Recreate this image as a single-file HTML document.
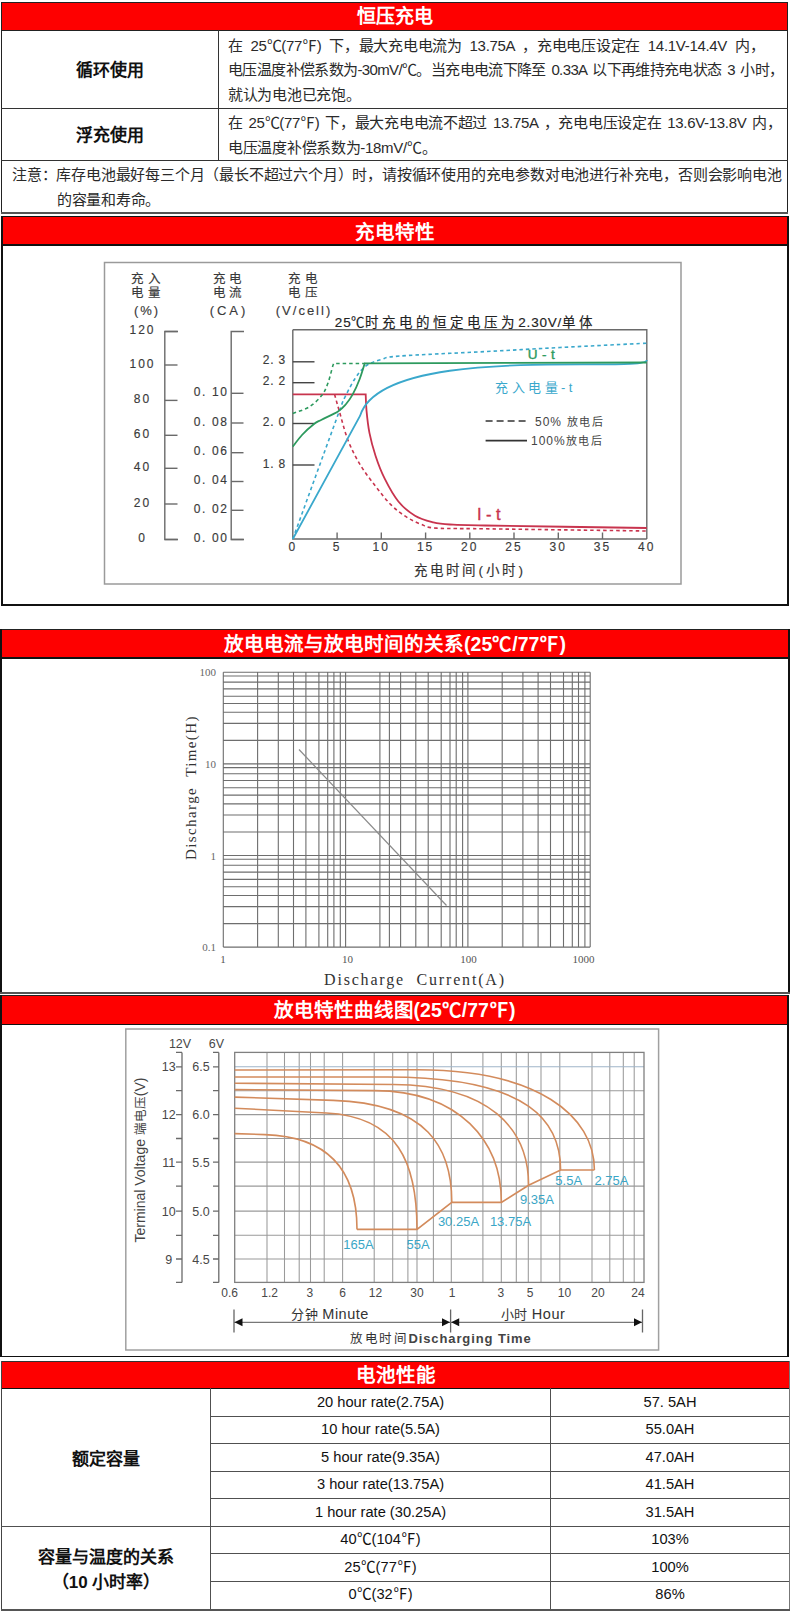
<!DOCTYPE html>
<html lang="zh-CN">
<head>
<meta charset="utf-8">
<style>
html,body{margin:0;padding:0;background:#fff;}
body{width:790px;height:1611px;position:relative;overflow:hidden;font-family:"Liberation Sans",sans-serif;color:#111;}
.a{position:absolute;}
.hl{position:absolute;height:1px;background:#333;}
.vl{position:absolute;width:1px;background:#333;}
.red{position:absolute;background:#fe0000;}
.ht{position:absolute;color:#fff;font-weight:bold;font-size:19.5px;text-align:center;line-height:27px;white-space:nowrap;}
.bt{position:absolute;font-size:15px;line-height:25px;white-space:nowrap;color:#2a2a2a;word-spacing:2px;letter-spacing:-0.3px;}
.lb{position:absolute;font-size:17px;font-weight:bold;text-align:center;white-space:nowrap;color:#111;}
.ct{position:absolute;font-size:14.67px;text-align:center;white-space:nowrap;color:#111;line-height:27px;}
</style>
</head>
<body>
<!-- ===== Section 1 ===== -->
<div class="red" style="left:1px;top:2px;width:787px;height:29px;"></div>
<div class="hl" style="left:1px;top:2px;width:787px;background:#222"></div>
<div class="hl" style="left:1px;top:30px;width:787px;background:#222"></div>
<div class="ht" style="left:1px;top:3px;width:787px;font-size:19px;">恒压充电</div>
<div class="vl" style="left:1px;top:2px;height:211px;background:#222"></div>
<div class="vl" style="left:787px;top:2px;height:211px;background:#222"></div>
<div class="vl" style="left:218px;top:30px;height:130px;"></div>
<div class="hl" style="left:1px;top:108px;width:787px;"></div>
<div class="hl" style="left:1px;top:160px;width:787px;"></div>
<div class="hl" style="left:1px;top:212px;width:787px;height:2px;background:#555"></div>
<div class="lb" style="left:2px;top:60.3px;width:216px;line-height:22px;">循环使用</div>
<div class="lb" style="left:2px;top:124.5px;width:216px;line-height:22px;">浮充使用</div>
<div class="bt" style="left:228px;top:33px;word-spacing:4px;">在 25℃(77℉) 下，最大充电电流为 13.75A ，充电电压设定在 14.1V-14.4V 内，</div>
<div class="bt" style="left:228px;top:57px;letter-spacing:-0.62px;">电压温度补偿系数为-30mV/℃。当充电电流下降至 0.33A 以下再维持充电状态 3 小时，</div>
<div class="bt" style="left:228px;top:82px;">就认为电池已充饱。</div>
<div class="bt" style="left:228px;top:110px;">在 25℃(77℉) 下，最大充电电流不超过 13.75A ，充电电压设定在 13.6V-13.8V 内，</div>
<div class="bt" style="left:228px;top:135px;">电压温度补偿系数为-18mV/℃。</div>
<div class="bt" style="left:12px;top:162px;letter-spacing:-0.2px;">注意：库存电池最好每三个月（最长不超过六个月）时，请按循环使用的充电参数对电池进行补充电，否则会影响电池</div>
<div class="bt" style="left:57px;top:187px;">的容量和寿命。</div>

<!-- ===== Section 2 ===== -->
<div class="red" style="left:1px;top:216px;width:787px;height:29px;"></div>
<div class="hl" style="left:1px;top:216px;width:787px;background:#111"></div>
<div class="hl" style="left:1px;top:244px;width:787px;height:2px;background:#111"></div>
<div class="ht" style="left:1px;top:218.5px;width:787px;">充电特性</div>
<div class="vl" style="left:1px;top:216px;height:390px;width:2px;background:#111"></div>
<div class="vl" style="left:787px;top:216px;height:390px;width:2px;background:#111"></div>
<div class="hl" style="left:1px;top:604px;width:788px;height:2px;background:#111"></div>

<!-- ===== Section 3 ===== -->
<div class="red" style="left:0px;top:629px;width:790px;height:29px;"></div>
<div class="hl" style="left:0px;top:629px;width:790px;background:#222"></div>
<div class="hl" style="left:0px;top:657px;width:790px;height:2px;background:#111"></div>
<div class="ht" style="left:0px;top:630.7px;width:790px;">放电电流与放电时间的关系(25℃/77℉)</div>
<div class="vl" style="left:0px;top:629px;height:365px;width:2px;background:#111"></div>
<div class="vl" style="left:788px;top:629px;height:365px;width:2px;background:#111"></div>
<div class="hl" style="left:0px;top:992px;width:790px;height:2px;background:#555"></div>

<!-- ===== Section 4 ===== -->
<div class="red" style="left:0px;top:995px;width:789px;height:30px;"></div>
<div class="hl" style="left:0px;top:995px;width:789px;background:#222"></div>
<div class="hl" style="left:0px;top:1024px;width:789px;height:1px;background:#111"></div>
<div class="ht" style="left:0px;top:997px;width:789px;">放电特性曲线图(25℃/77℉)</div>
<div class="vl" style="left:0px;top:995px;height:362px;width:2px;background:#111"></div>
<div class="vl" style="left:787px;top:995px;height:362px;width:2px;background:#111"></div>
<div class="hl" style="left:0px;top:1356px;width:789px;height:1px;background:#111"></div>

<!-- ===== Section 5 ===== -->
<div class="red" style="left:1px;top:1361px;width:789px;height:28px;"></div>
<div class="hl" style="left:1px;top:1361px;width:789px;background:#333"></div>
<div class="hl" style="left:1px;top:1388px;width:789px;height:1px;background:#111"></div>
<div class="ht" style="left:1px;top:1362px;width:789px;">电池性能</div>
<div class="vl" style="left:1px;top:1361px;height:249px;background:#444"></div>
<div class="vl" style="left:789px;top:1361px;height:249px;background:#777"></div>
<div class="vl" style="left:210px;top:1388px;height:221px;background:#505050"></div>
<div class="vl" style="left:550px;top:1388px;height:221px;background:#505050"></div>
<div class="hl" style="left:210px;top:1416px;width:579px;background:#505050"></div>
<div class="hl" style="left:210px;top:1443px;width:579px;background:#505050"></div>
<div class="hl" style="left:210px;top:1471px;width:579px;background:#505050"></div>
<div class="hl" style="left:210px;top:1498px;width:579px;background:#505050"></div>
<div class="hl" style="left:1px;top:1526px;width:789px;background:#505050"></div>
<div class="hl" style="left:210px;top:1553px;width:579px;background:#505050"></div>
<div class="hl" style="left:210px;top:1581px;width:579px;background:#505050"></div>
<div class="hl" style="left:1px;top:1609px;width:789px;height:2px;background:#555"></div>
<div class="lb" style="left:2px;top:1448.5px;width:208px;line-height:22px;">额定容量</div>
<div class="lb" style="left:2px;top:1545px;width:208px;line-height:25px;">容量与温度的关系<br>（10 小时率）</div>
<div class="ct" style="left:211px;top:1389px;width:339px;">20 hour rate(2.75A)</div>
<div class="ct" style="left:211px;top:1416px;width:339px;">10 hour rate(5.5A)</div>
<div class="ct" style="left:211px;top:1444px;width:339px;">5 hour rate(9.35A)</div>
<div class="ct" style="left:211px;top:1471px;width:339px;">3 hour rate(13.75A)</div>
<div class="ct" style="left:211px;top:1499px;width:339px;">1 hour rate (30.25A)</div>
<div class="ct" style="left:211px;top:1526px;width:339px;">40℃(104℉)</div>
<div class="ct" style="left:211px;top:1554px;width:339px;">25℃(77℉)</div>
<div class="ct" style="left:211px;top:1581px;width:339px;">0℃(32℉)</div>
<div class="ct" style="left:551px;top:1389px;width:238px;">57. 5AH</div>
<div class="ct" style="left:551px;top:1416px;width:238px;">55.0AH</div>
<div class="ct" style="left:551px;top:1444px;width:238px;">47.0AH</div>
<div class="ct" style="left:551px;top:1471px;width:238px;">41.5AH</div>
<div class="ct" style="left:551px;top:1499px;width:238px;">31.5AH</div>
<div class="ct" style="left:551px;top:1526px;width:238px;">103%</div>
<div class="ct" style="left:551px;top:1554px;width:238px;">100%</div>
<div class="ct" style="left:551px;top:1581px;width:238px;">86%</div>

<!-- CHARTS -->
<svg class="a" style="left:0;top:0" width="790" height="1611" viewBox="0 0 790 1611">
<rect x="104.5" y="262.5" width="576.5" height="321.5" fill="none" stroke="#9a9a9a" stroke-width="1.5"/>
<g stroke="#3a3a3a" stroke-width="0.15">
<text x="147.8" y="283.2" font-size="12.5" fill="#3a3a3a" text-anchor="middle" font-family="Liberation Sans" letter-spacing="3.5">充入</text>
<text x="147.8" y="297.2" font-size="12.5" fill="#3a3a3a" text-anchor="middle" font-family="Liberation Sans" letter-spacing="3.5">电量</text>
<text x="147" y="314.5" font-size="13" fill="#3a3a3a" text-anchor="middle" font-family="Liberation Sans" letter-spacing="2">(%)</text>
<text x="229.2" y="283.2" font-size="12.5" fill="#3a3a3a" text-anchor="middle" font-family="Liberation Sans" letter-spacing="3.5">充电</text>
<text x="229.2" y="297.2" font-size="12.5" fill="#3a3a3a" text-anchor="middle" font-family="Liberation Sans" letter-spacing="3.5">电流</text>
<text x="229" y="314.5" font-size="13" fill="#3a3a3a" text-anchor="middle" font-family="Liberation Sans" letter-spacing="3">(CA)</text>
<text x="304.8" y="283.2" font-size="12.5" fill="#3a3a3a" text-anchor="middle" font-family="Liberation Sans" letter-spacing="3.5">充电</text>
<text x="304.8" y="297.2" font-size="12.5" fill="#3a3a3a" text-anchor="middle" font-family="Liberation Sans" letter-spacing="3.5">电压</text>
<text x="304" y="314.5" font-size="13" fill="#3a3a3a" text-anchor="middle" font-family="Liberation Sans" letter-spacing="2">(V/cell)</text>
<path d="M178,331.5 H164.8 V539.5 H178" fill="none" stroke="#6a6a6a" stroke-width="1.4"/>
<line x1="164.8" y1="331.5" x2="177.5" y2="331.5" stroke="#6a6a6a" stroke-width="1.4" />
<text x="142.5" y="334" font-size="12" fill="#3a3a3a" text-anchor="middle" font-family="Liberation Sans" letter-spacing="2">120</text>
<line x1="164.8" y1="365" x2="177.5" y2="365" stroke="#6a6a6a" stroke-width="1.4" />
<text x="142.5" y="367.5" font-size="12" fill="#3a3a3a" text-anchor="middle" font-family="Liberation Sans" letter-spacing="2">100</text>
<line x1="164.8" y1="400.4" x2="177.5" y2="400.4" stroke="#6a6a6a" stroke-width="1.4" />
<text x="142.5" y="402.9" font-size="12" fill="#3a3a3a" text-anchor="middle" font-family="Liberation Sans" letter-spacing="2">80</text>
<line x1="164.8" y1="435.3" x2="177.5" y2="435.3" stroke="#6a6a6a" stroke-width="1.4" />
<text x="142.5" y="437.8" font-size="12" fill="#3a3a3a" text-anchor="middle" font-family="Liberation Sans" letter-spacing="2">60</text>
<line x1="164.8" y1="468.3" x2="177.5" y2="468.3" stroke="#6a6a6a" stroke-width="1.4" />
<text x="142.5" y="470.8" font-size="12" fill="#3a3a3a" text-anchor="middle" font-family="Liberation Sans" letter-spacing="2">40</text>
<line x1="164.8" y1="504" x2="177.5" y2="504" stroke="#6a6a6a" stroke-width="1.4" />
<text x="142.5" y="506.5" font-size="12" fill="#3a3a3a" text-anchor="middle" font-family="Liberation Sans" letter-spacing="2">20</text>
<line x1="164.8" y1="539.5" x2="177.5" y2="539.5" stroke="#6a6a6a" stroke-width="1.4" />
<text x="142.5" y="542" font-size="12" fill="#3a3a3a" text-anchor="middle" font-family="Liberation Sans" letter-spacing="2">0</text>
<path d="M244,331.5 H231.2 V539.5 H244" fill="none" stroke="#6a6a6a" stroke-width="1.4"/>
<line x1="231.2" y1="393.3" x2="243.5" y2="393.3" stroke="#6a6a6a" stroke-width="1.4" />
<text x="228.5" y="395.8" font-size="12" fill="#3a3a3a" text-anchor="end" font-family="Liberation Sans" letter-spacing="1.6">0. 10</text>
<line x1="231.2" y1="423" x2="243.5" y2="423" stroke="#6a6a6a" stroke-width="1.4" />
<text x="228.5" y="425.5" font-size="12" fill="#3a3a3a" text-anchor="end" font-family="Liberation Sans" letter-spacing="1.6">0. 08</text>
<line x1="231.2" y1="452.7" x2="243.5" y2="452.7" stroke="#6a6a6a" stroke-width="1.4" />
<text x="228.5" y="455.2" font-size="12" fill="#3a3a3a" text-anchor="end" font-family="Liberation Sans" letter-spacing="1.6">0. 06</text>
<line x1="231.2" y1="481.5" x2="243.5" y2="481.5" stroke="#6a6a6a" stroke-width="1.4" />
<text x="228.5" y="484" font-size="12" fill="#3a3a3a" text-anchor="end" font-family="Liberation Sans" letter-spacing="1.6">0. 04</text>
<line x1="231.2" y1="510.3" x2="243.5" y2="510.3" stroke="#6a6a6a" stroke-width="1.4" />
<text x="228.5" y="512.8" font-size="12" fill="#3a3a3a" text-anchor="end" font-family="Liberation Sans" letter-spacing="1.6">0. 02</text>
<line x1="231.2" y1="539.5" x2="243.5" y2="539.5" stroke="#6a6a6a" stroke-width="1.4" />
<text x="228.5" y="542" font-size="12" fill="#3a3a3a" text-anchor="end" font-family="Liberation Sans" letter-spacing="1.6">0. 00</text>
<path d="M292.8,329.8 H646.8 V539 M292.8,329.8 V539 H646.8" fill="none" stroke="#6a6a6a" stroke-width="1.4"/>
<line x1="292.8" y1="361.8" x2="314.5" y2="361.8" stroke="#444" stroke-width="1.4" />
<text x="286" y="364.3" font-size="12" fill="#3a3a3a" text-anchor="end" font-family="Liberation Sans" letter-spacing="0.8">2. 3</text>
<line x1="292.8" y1="382.7" x2="314.5" y2="382.7" stroke="#444" stroke-width="1.4" />
<text x="286" y="385.2" font-size="12" fill="#3a3a3a" text-anchor="end" font-family="Liberation Sans" letter-spacing="0.8">2. 2</text>
<line x1="292.8" y1="423.5" x2="314.5" y2="423.5" stroke="#444" stroke-width="1.4" />
<text x="286" y="426" font-size="12" fill="#3a3a3a" text-anchor="end" font-family="Liberation Sans" letter-spacing="0.8">2. 0</text>
<line x1="292.8" y1="465" x2="314.5" y2="465" stroke="#444" stroke-width="1.4" />
<text x="286" y="467.5" font-size="12" fill="#3a3a3a" text-anchor="end" font-family="Liberation Sans" letter-spacing="0.8">1. 8</text>
<text x="292.8" y="550.5" font-size="12" fill="#3a3a3a" text-anchor="middle" font-family="Liberation Sans" letter-spacing="2">0</text>
<line x1="337.1" y1="532.5" x2="337.1" y2="539" stroke="#6a6a6a" stroke-width="1.4" />
<text x="337.1" y="550.5" font-size="12" fill="#3a3a3a" text-anchor="middle" font-family="Liberation Sans" letter-spacing="2">5</text>
<line x1="381.3" y1="532.5" x2="381.3" y2="539" stroke="#6a6a6a" stroke-width="1.4" />
<text x="381.3" y="550.5" font-size="12" fill="#3a3a3a" text-anchor="middle" font-family="Liberation Sans" letter-spacing="2">10</text>
<line x1="425.6" y1="532.5" x2="425.6" y2="539" stroke="#6a6a6a" stroke-width="1.4" />
<text x="425.6" y="550.5" font-size="12" fill="#3a3a3a" text-anchor="middle" font-family="Liberation Sans" letter-spacing="2">15</text>
<line x1="469.8" y1="532.5" x2="469.8" y2="539" stroke="#6a6a6a" stroke-width="1.4" />
<text x="469.8" y="550.5" font-size="12" fill="#3a3a3a" text-anchor="middle" font-family="Liberation Sans" letter-spacing="2">20</text>
<line x1="514" y1="532.5" x2="514" y2="539" stroke="#6a6a6a" stroke-width="1.4" />
<text x="514" y="550.5" font-size="12" fill="#3a3a3a" text-anchor="middle" font-family="Liberation Sans" letter-spacing="2">25</text>
<line x1="558.3" y1="532.5" x2="558.3" y2="539" stroke="#6a6a6a" stroke-width="1.4" />
<text x="558.3" y="550.5" font-size="12" fill="#3a3a3a" text-anchor="middle" font-family="Liberation Sans" letter-spacing="2">30</text>
<line x1="602.5" y1="532.5" x2="602.5" y2="539" stroke="#6a6a6a" stroke-width="1.4" />
<text x="602.5" y="550.5" font-size="12" fill="#3a3a3a" text-anchor="middle" font-family="Liberation Sans" letter-spacing="2">35</text>
<text x="646.8" y="550.5" font-size="12" fill="#3a3a3a" text-anchor="middle" font-family="Liberation Sans" letter-spacing="2">40</text>
</g>
<text x="470" y="574.5" font-size="13.5" fill="#333" text-anchor="middle" font-family="Liberation Sans" letter-spacing="3.2" stroke="#333" stroke-width="0.15">充电时间(小时)</text>
<text x="465.5" y="326.5" font-size="13.5" fill="#222" text-anchor="middle" font-family="Liberation Sans" letter-spacing="0.8" stroke="#222" stroke-width="0.15">25℃<tspan letter-spacing="4">时充电的恒定电压为</tspan>2.30V/<tspan letter-spacing="4">单体</tspan></text>
<path d="M292.8,394.4 H365.7  C365.8,397.1 365.9,403.9 366.5,410.4 C367.1,416.9 368,425.6 369.5,433.2 C371,440.8 373.1,448.4 375.6,456 C378.1,463.6 380.9,471.1 384.7,478.7 C388.5,486.3 393.3,495.3 398.4,501.5 C403.4,507.7 409.2,512.2 415,515.7 C420.8,519.2 427.5,520.8 433.3,522.3 C439.1,523.8 441.4,524 450,524.5 C458.6,525 452.2,524.9 485,525.5 C517.8,526.1 619.8,527.6 646.8,528" fill="none" stroke="#c8344e" stroke-width="1.8"/>
<path d="M334.6,394.4 C335.4,397.1 336.8,402.7 339.1,410.4 C341.4,418.1 344.6,431.7 348.2,440.8 C351.8,449.9 355.8,457.5 360.4,465.1 C365,472.7 370.5,479.7 375.6,486.3 C380.7,492.9 385.7,499.5 390.8,504.6 C395.9,509.7 400.9,513.4 406,516.7 C411.1,520 416.1,522.4 421.1,524.3 C426.2,526.2 425.7,527.4 436.3,528.1 C446.9,528.9 449.9,528.3 485,528.8 C520.1,529.3 619.8,530.6 646.8,531" fill="none" stroke="#c8344e" stroke-width="1.6" stroke-dasharray="3.5,3"/>
<path d="M292.8,539 L360,416 C382.7,341.3 647.3,374.6 646.8,360" fill="none" stroke="#3aa8cc" stroke-width="1.8"/>
<path d="M292.8,539 L343,401  C344.9,397.4 350.8,385.1 354.6,379.2 C358.4,373.3 361.6,369.2 366,365.9 C370.4,362.6 375.3,361.2 381,359.6 C386.7,358 382.7,357.3 400,356 C417.3,354.7 458.3,353 485,351.6 C511.7,350.2 533,348.9 560,347.5 C587,346.1 632.3,343.9 646.8,343.2" fill="none" stroke="#3aa8cc" stroke-width="1.6" stroke-dasharray="3.5,3"/>
<path d="M292.8,446.6 C294.3,444.7 298.5,438.8 302,435 C305.5,431.2 310.7,426.6 314,424 C317.3,421.4 317.6,421.8 321.6,419.7 C325.6,417.6 334,414 338,411.5 C342,409 343.2,407.4 345.7,404.5 C348.1,401.6 350.4,398.6 352.7,394.4 C355,390.2 357.6,384.4 359.6,379.2 C361.6,374 363.9,366 364.7,363.4 L646.8,362.5" fill="none" stroke="#2d9a5e" stroke-width="1.8"/>
<path d="M292.8,413.4 C295.5,412.3 304.2,410 309,407 C313.8,404 318.4,399.6 321.6,395.6 C324.8,391.6 326.1,388.1 328,383 C329.9,377.9 331.9,368.6 333,365.3 C334.1,362.1 334.2,363.8 334.5,363.5 L364.7,363.5" fill="none" stroke="#2d9a5e" stroke-width="1.6" stroke-dasharray="3.5,3"/>
<text x="543.5" y="358.5" font-size="13.5" fill="#2d9a5e" text-anchor="middle" font-family="Liberation Sans" letter-spacing="4.5" stroke="#2d9a5e" stroke-width="0.4">U-t</text>
<text x="535.5" y="391.5" font-size="13" fill="#3aa8cc" text-anchor="middle" font-family="Liberation Sans" letter-spacing="3.5">充入电量-t</text>
<text x="491" y="519.5" font-size="16.5" fill="#c8344e" text-anchor="middle" font-family="Liberation Sans" letter-spacing="4.5" stroke="#c8344e" stroke-width="0.35">I-t</text>
<path d="M485.6,421 H527.7" stroke="#333" stroke-width="1.5" stroke-dasharray="7,4"/>
<path d="M485.6,440.6 H527" stroke="#333" stroke-width="1.7"/>
<text x="535" y="425.5" font-size="12" fill="#444" text-anchor="start" font-family="Liberation Sans" letter-spacing="1">50%<tspan font-size="11" letter-spacing="1.6"> 放电后</tspan></text>
<text x="531" y="445" font-size="12" fill="#444" text-anchor="start" font-family="Liberation Sans" letter-spacing="1">100%<tspan font-size="11" letter-spacing="1.6">放电后</tspan></text>
</svg>
<svg class="a" style="left:0;top:0" width="790" height="1611" viewBox="0 0 790 1611">
<path d="M223.3,672.3 V947.1 M257.6,672.3 V947.1 M278.3,672.3 V947.1 M293.5,672.3 V947.1 M305.9,672.3 V947.1 M318.9,672.3 V947.1 M327.7,672.3 V947.1 M333.9,672.3 V947.1 M340.3,672.3 V947.1 M223.3,672.3 H590.2 M223.3,676 H590.2 M223.3,682.1 H590.2 M223.3,688.9 H590.2 M223.3,696.2 H590.2 M223.3,703.5 H590.2 M223.3,712.3 H590.2 M223.3,723.4 H590.2 M223.3,740.4 H590.2 M345.6,672.3 V947.1 M379.9,672.3 V947.1 M400.6,672.3 V947.1 M415.8,672.3 V947.1 M428.2,672.3 V947.1 M441.2,672.3 V947.1 M450,672.3 V947.1 M456.2,672.3 V947.1 M462.6,672.3 V947.1 M223.3,763.9 H590.2 M223.3,767.6 H590.2 M223.3,773.7 H590.2 M223.3,780.5 H590.2 M223.3,787.8 H590.2 M223.3,795.1 H590.2 M223.3,803.9 H590.2 M223.3,815 H590.2 M223.3,832 H590.2 M467.9,672.3 V947.1 M502.2,672.3 V947.1 M522.9,672.3 V947.1 M538.1,672.3 V947.1 M550.5,672.3 V947.1 M563.5,672.3 V947.1 M572.3,672.3 V947.1 M578.5,672.3 V947.1 M584.9,672.3 V947.1 M223.3,855.5 H590.2 M223.3,859.2 H590.2 M223.3,865.3 H590.2 M223.3,872.1 H590.2 M223.3,879.4 H590.2 M223.3,886.7 H590.2 M223.3,895.5 H590.2 M223.3,906.6 H590.2 M223.3,923.6 H590.2 M389.4,672.3 V947.1 M590.2,672.3 V947.1 M223.3,947.1 H590.2 " fill="none" stroke="#6e6e6e" stroke-width="1.1"/>
<line x1="299" y1="749.5" x2="446.5" y2="905.5" stroke="#8a8a8a" stroke-width="1.2" />
<text x="216" y="676.3" font-size="11" fill="#666" text-anchor="end" font-family="Liberation Serif" >100</text>
<text x="216" y="767.9" font-size="11" fill="#666" text-anchor="end" font-family="Liberation Serif" >10</text>
<text x="216" y="859.5" font-size="11" fill="#666" text-anchor="end" font-family="Liberation Serif" >1</text>
<text x="216" y="951.1" font-size="11" fill="#666" text-anchor="end" font-family="Liberation Serif" >0.1</text>
<text x="223" y="963" font-size="11" fill="#555" text-anchor="middle" font-family="Liberation Serif" >1</text>
<text x="347.5" y="963" font-size="11" fill="#555" text-anchor="middle" font-family="Liberation Serif" >10</text>
<text x="468.5" y="963" font-size="11" fill="#555" text-anchor="middle" font-family="Liberation Serif" >100</text>
<text x="583.5" y="963" font-size="11" fill="#555" text-anchor="middle" font-family="Liberation Serif" >1000</text>
<text x="324" y="984.5" font-size="16" fill="#333" font-family="Liberation Serif" xml:space="preserve" textLength="180" lengthAdjust="spacing">Discharge  Current(A)</text>
<text transform="translate(195.5,860) rotate(-90)" x="0" y="0" font-size="15" fill="#333" font-family="Liberation Serif" xml:space="preserve" textLength="143.5" lengthAdjust="spacing">Discharge  Time(H)</text>
</svg>
<svg class="a" style="left:0;top:0" width="790" height="1611" viewBox="0 0 790 1611">
<rect x="125.8" y="1029" width="532.8" height="321" fill="none" stroke="#a0a0a0" stroke-width="1.5"/>
<path d="M267,1052.4 V1282.4 M284.5,1052.4 V1282.4 M299.2,1052.4 V1282.4 M310.5,1052.4 V1282.4 M324.2,1052.4 V1282.4 M342.6,1052.4 V1282.4 M374.2,1052.4 V1282.4 M392.7,1052.4 V1282.4 M407.9,1052.4 V1282.4 M417,1052.4 V1282.4 M433.4,1052.4 V1282.4 M451.3,1052.4 V1282.4 M482.9,1052.4 V1282.4 M501.3,1052.4 V1282.4 M516.3,1052.4 V1282.4 M528.3,1052.4 V1282.4 M541,1052.4 V1282.4 M559.8,1052.4 V1282.4 M592,1052.4 V1282.4 M609.8,1052.4 V1282.4 M623.3,1052.4 V1282.4 M634.2,1052.4 V1282.4 M234.7,1090.7 H644 M234.7,1114.6 H644 M234.7,1138.5 H644 M234.7,1162.1 H644 M234.7,1186.1 H644 M234.7,1211.1 H644 M234.7,1235.3 H644 M234.7,1259 H644 " fill="none" stroke="#9a9a9a" stroke-width="1.05"/>
<line x1="234.7" y1="1066.8" x2="644" y2="1066.8" stroke="#9fb4c8" stroke-width="1.1" />
<rect x="234.7" y="1052.4" width="409.3" height="230" fill="none" stroke="#808080" stroke-width="1.3"/>
<path d="M182,1052.4 V1282.4 M176,1052.4 H182 M176,1066.8 H182 M176,1090.7 H182 M176,1114.6 H182 M176,1138.5 H182 M176,1162.1 H182 M176,1186.1 H182 M176,1211.1 H182 M176,1235.3 H182 M176,1259 H182 M176,1282.4 H182 " fill="none" stroke="#6a6a6a" stroke-width="1.3"/>
<path d="M218.8,1052.4 V1282.4 M213,1052.4 H218.8 M213,1066.8 H218.8 M213,1090.7 H218.8 M213,1114.6 H218.8 M213,1138.5 H218.8 M213,1162.1 H218.8 M213,1186.1 H218.8 M213,1211.1 H218.8 M213,1235.3 H218.8 M213,1259 H218.8 M213,1282.4 H218.8 " fill="none" stroke="#6a6a6a" stroke-width="1.3"/>
<text x="168.8" y="1071.3" font-size="12.5" fill="#484848" text-anchor="middle" font-family="Liberation Sans" >13</text>
<text x="168.8" y="1119.1" font-size="12.5" fill="#484848" text-anchor="middle" font-family="Liberation Sans" >12</text>
<text x="168.8" y="1166.6" font-size="12.5" fill="#484848" text-anchor="middle" font-family="Liberation Sans" >11</text>
<text x="168.8" y="1215.6" font-size="12.5" fill="#484848" text-anchor="middle" font-family="Liberation Sans" >10</text>
<text x="168.8" y="1263.5" font-size="12.5" fill="#484848" text-anchor="middle" font-family="Liberation Sans" >9</text>
<text x="201" y="1071.3" font-size="12.5" fill="#484848" text-anchor="middle" font-family="Liberation Sans" >6.5</text>
<text x="201" y="1119.1" font-size="12.5" fill="#484848" text-anchor="middle" font-family="Liberation Sans" >6.0</text>
<text x="201" y="1166.6" font-size="12.5" fill="#484848" text-anchor="middle" font-family="Liberation Sans" >5.5</text>
<text x="201" y="1215.6" font-size="12.5" fill="#484848" text-anchor="middle" font-family="Liberation Sans" >5.0</text>
<text x="201" y="1263.5" font-size="12.5" fill="#484848" text-anchor="middle" font-family="Liberation Sans" >4.5</text>
<text x="180" y="1047.5" font-size="12.5" fill="#484848" text-anchor="middle" font-family="Liberation Sans" >12V</text>
<text x="216.5" y="1047.5" font-size="12.5" fill="#484848" text-anchor="middle" font-family="Liberation Sans" >6V</text>
<text transform="translate(144.5,1160) rotate(-90)" x="0" y="0" font-size="14" fill="#444" text-anchor="middle" font-family="Liberation Sans">Terminal Voltage <tspan font-size="12.5">端电压</tspan>(V)</text>
<path d="M234.7,1133.6 L264.9,1134.6 C321.9,1136.4 357,1164 357,1229.4" fill="none" stroke="#d38b5c" stroke-width="1.6"/>
<path d="M234.7,1108.2 L326.3,1113 C398.1,1116.7 417,1163 417,1229.4" fill="none" stroke="#d38b5c" stroke-width="1.6"/>
<path d="M234.7,1097.1 L333.2,1100.4 C428.3,1103.6 451.8,1148.3 451.8,1202.4" fill="none" stroke="#d38b5c" stroke-width="1.6"/>
<path d="M234.7,1089.6 L375,1090.6 C459.5,1091.2 501.4,1141 501.4,1202.4" fill="none" stroke="#d38b5c" stroke-width="1.6"/>
<path d="M234.7,1083.2 L393.5,1084.5 C489,1085.3 528.6,1128.1 528.6,1185.2" fill="none" stroke="#d38b5c" stroke-width="1.6"/>
<path d="M234.7,1077 L387.7,1077 C533.4,1077.1 560.6,1124.1 560.6,1170" fill="none" stroke="#d38b5c" stroke-width="1.6"/>
<path d="M234.7,1070 L417.1,1069.8 C537.5,1069.7 594.4,1115.6 594.4,1170" fill="none" stroke="#d38b5c" stroke-width="1.6"/>
<path d="M357,1229.4 H417 L451.8,1202.4 H501.4 L528.6,1185.2 L560.6,1170 H594.4" fill="none" stroke="#d38b5c" stroke-width="1.6"/>
<text x="358.4" y="1248.5" font-size="13" fill="#3aa6c6" text-anchor="middle" font-family="Liberation Sans" >165A</text>
<text x="418" y="1248.5" font-size="13" fill="#3aa6c6" text-anchor="middle" font-family="Liberation Sans" >55A</text>
<text x="458.5" y="1225.5" font-size="13" fill="#3aa6c6" text-anchor="middle" font-family="Liberation Sans" >30.25A</text>
<text x="510.5" y="1225.5" font-size="13" fill="#3aa6c6" text-anchor="middle" font-family="Liberation Sans" >13.75A</text>
<text x="537" y="1203.5" font-size="13" fill="#3aa6c6" text-anchor="middle" font-family="Liberation Sans" >9.35A</text>
<text x="568.7" y="1185" font-size="13" fill="#3aa6c6" text-anchor="middle" font-family="Liberation Sans" >5.5A</text>
<text x="611.4" y="1185" font-size="13" fill="#3aa6c6" text-anchor="middle" font-family="Liberation Sans" >2.75A</text>
<text x="229.6" y="1296.5" font-size="12" fill="#484848" text-anchor="middle" font-family="Liberation Sans" >0.6</text>
<text x="269.7" y="1296.5" font-size="12" fill="#484848" text-anchor="middle" font-family="Liberation Sans" >1.2</text>
<text x="309.8" y="1296.5" font-size="12" fill="#484848" text-anchor="middle" font-family="Liberation Sans" >3</text>
<text x="342.6" y="1296.5" font-size="12" fill="#484848" text-anchor="middle" font-family="Liberation Sans" >6</text>
<text x="375.4" y="1296.5" font-size="12" fill="#484848" text-anchor="middle" font-family="Liberation Sans" >12</text>
<text x="417" y="1296.5" font-size="12" fill="#484848" text-anchor="middle" font-family="Liberation Sans" >30</text>
<text x="452" y="1296.5" font-size="12" fill="#484848" text-anchor="middle" font-family="Liberation Sans" >1</text>
<text x="500.8" y="1296.5" font-size="12" fill="#484848" text-anchor="middle" font-family="Liberation Sans" >3</text>
<text x="530" y="1296.5" font-size="12" fill="#484848" text-anchor="middle" font-family="Liberation Sans" >5</text>
<text x="564.5" y="1296.5" font-size="12" fill="#484848" text-anchor="middle" font-family="Liberation Sans" >10</text>
<text x="598" y="1296.5" font-size="12" fill="#484848" text-anchor="middle" font-family="Liberation Sans" >20</text>
<text x="638" y="1296.5" font-size="12" fill="#484848" text-anchor="middle" font-family="Liberation Sans" >24</text>
<path d="M234,1309.5 V1332.5 M450.6,1309.5 V1332.5 M642.5,1309.5 V1332.5" stroke="#666" stroke-width="1.3"/>
<path d="M234,1322.3 H450.6 M450.6,1322.3 H642.5" stroke="#777" stroke-width="1.2"/>
<path d="M234.5,1322.3 l8,-4 v8 z M450,1322.3 l-8,-4 v8 z M451.2,1322.3 l8,-4 v8 z M642,1322.3 l-8,-4 v8 z" fill="#111"/>
<text x="330" y="1318.5" font-size="13" fill="#333" text-anchor="middle" font-family="Liberation Sans" letter-spacing="0.5">分钟 <tspan font-size="14.5">Minute</tspan></text>
<text x="533" y="1318.5" font-size="13" fill="#333" text-anchor="middle" font-family="Liberation Sans" letter-spacing="0.5">小时 <tspan font-size="14.5">Hour</tspan></text>
<text x="441" y="1342.5" font-size="12.5" fill="#333" text-anchor="middle" font-family="Liberation Sans" letter-spacing="0.9"><tspan letter-spacing="1.5">放电时间</tspan><tspan font-weight="bold" font-size="13" fill="#444">Discharging Time</tspan></text>
</svg>
</body>
</html>
